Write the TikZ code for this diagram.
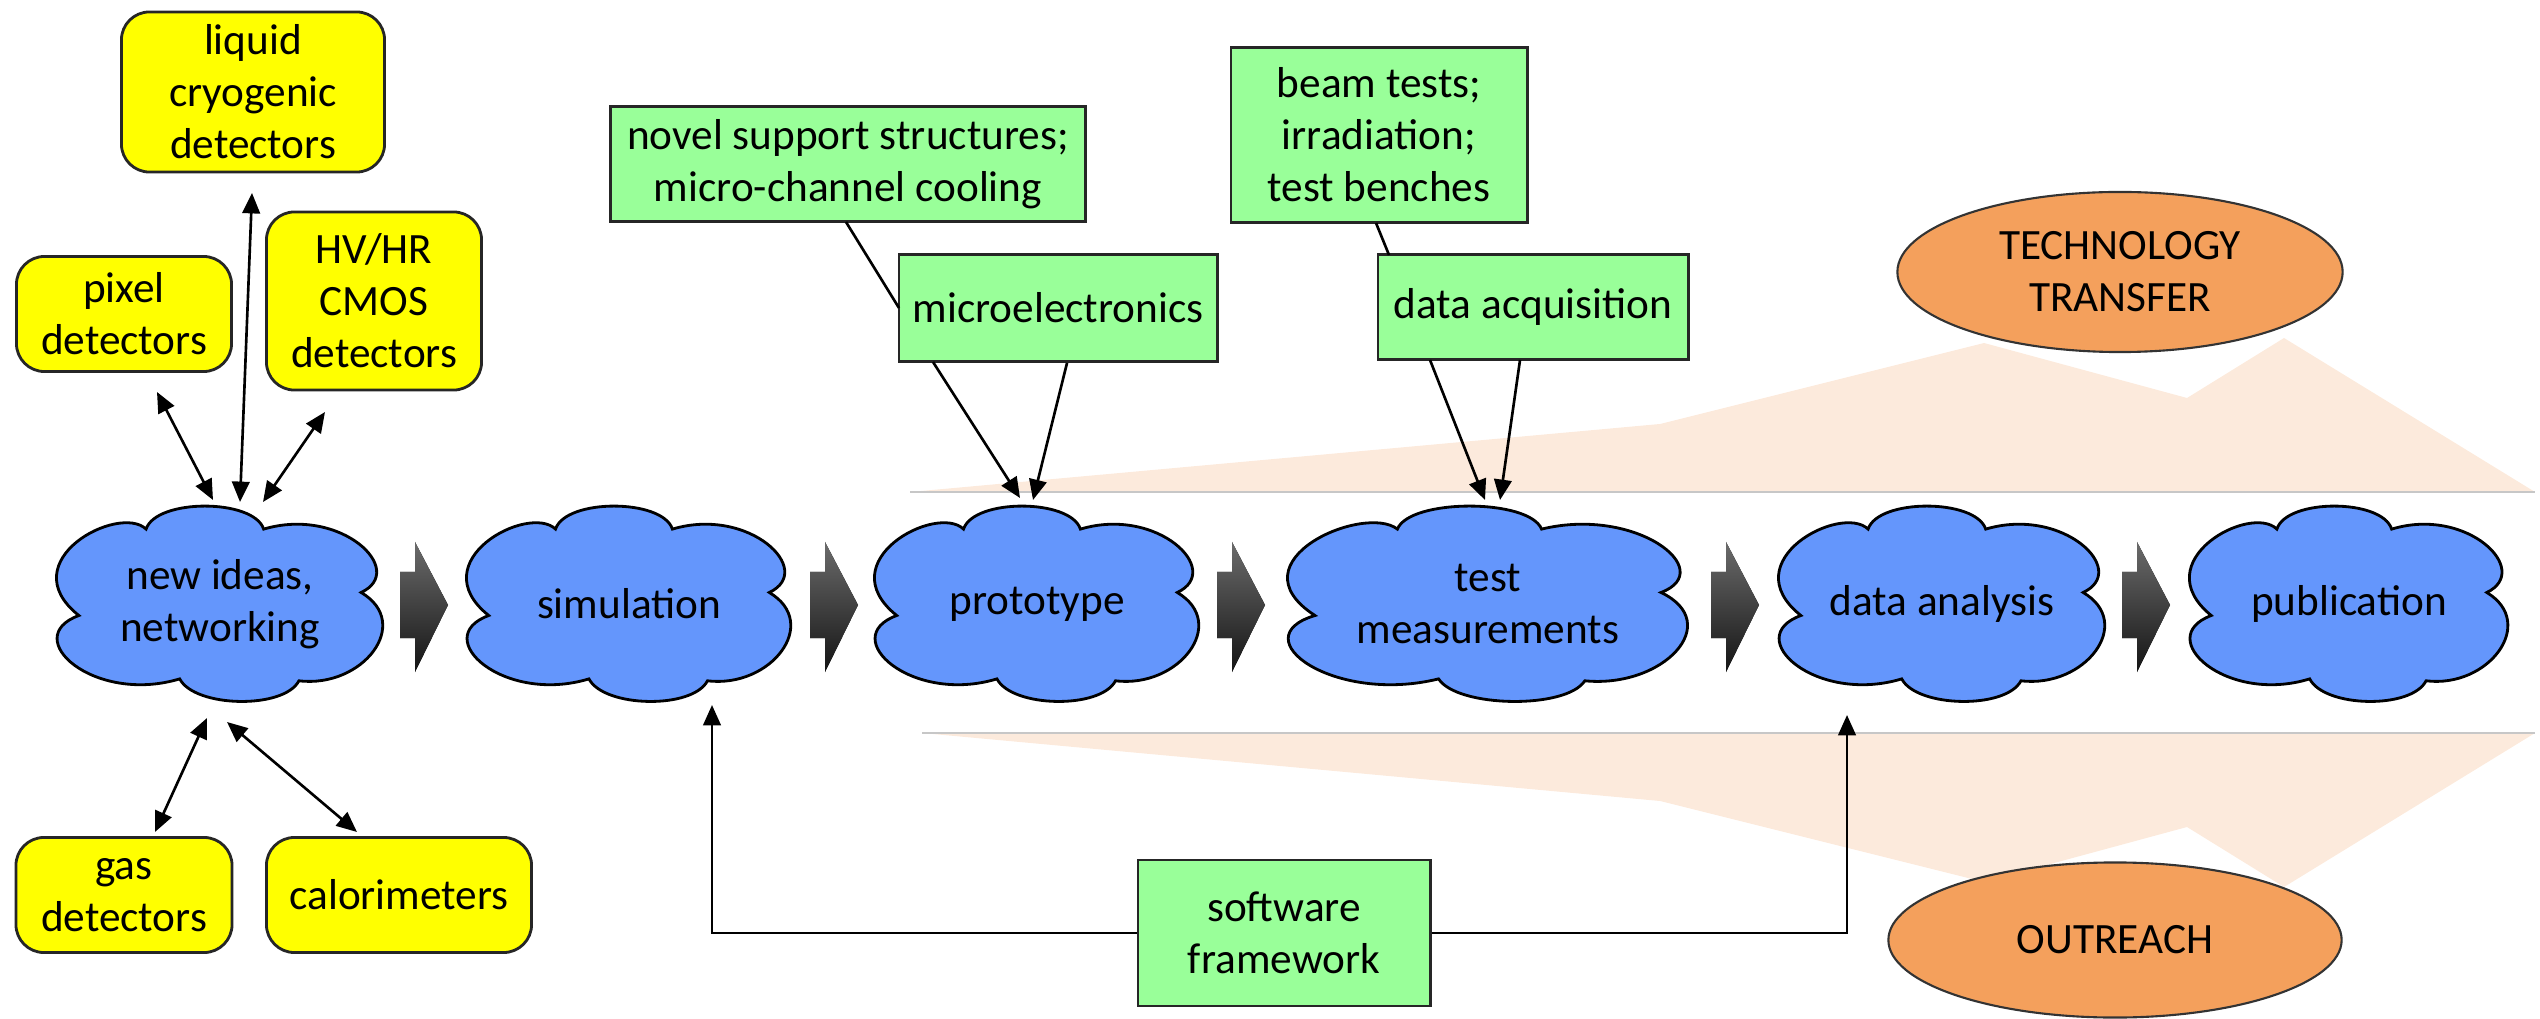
\documentclass[tikz,border=0pt]{standalone}
\usepackage{fontspec}
\setmainfont{Carlito}
\usetikzlibrary{shapes.geometric,arrows.meta,calc}
\definecolor{detyellow}{RGB}{255,255,0}
\definecolor{taskgreen}{RGB}{153,255,153}
\definecolor{ideablue}{RGB}{100,150,252}
\definecolor{bandpeach}{RGB}{252,234,220}
\definecolor{ovalorange}{RGB}{244,160,92}
\tikzset{
  lbl/.style={font=\fontsize{12.3}{14.8}\selectfont, align=center, text=black},
  detbox/.style={lbl, draw=black!85, line width=0.8pt, fill=detyellow, rounded corners=0.28cm, inner sep=0pt},
  taskbox/.style={lbl, draw=black!85, line width=0.8pt, fill=taskgreen, inner sep=0pt},
  cloudskin/.style={draw=black, line width=0.8pt, fill=ideablue},
  oval/.style={lbl, shape=ellipse, draw=black!80, line width=0.6pt, fill=ovalorange, inner sep=0pt},
  headtip/.style={-{Triangle[length=5.8pt,width=5pt]}},
  twoway/.style={{Triangle[length=5.8pt,width=5pt]}-{Triangle[length=5.8pt,width=5pt]}, line width=0.75pt},
  feed/.style={headtip, line width=0.75pt},
  link/.style={line width=0.75pt},
  flowshade/.style={top color=black!58, bottom color=black!92, draw=none},
}
% cloud-shaped stage: name, centre x, centre y, half width (px), text
\newcommand\ideacloud[5]{%
  \begin{scope}[shift={(#2,#3)}, xscale=#4, yscale=96]
    \filldraw[cloudskin] (-0.44,-0.78)
      .. controls (-0.60,-1.05) and (-1.25,-0.45) .. (-0.84,0.12)
      .. controls (-1.20,0.35) and (-0.75,1.05) .. (-0.24,0.78)
      .. controls (-0.15,1.08) and (0.38,1.10) .. (0.47,0.80)
      .. controls (0.85,0.88) and (1.15,0.20) .. (0.84,-0.12)
      .. controls (1.12,-0.35) and (0.72,-1.02) .. (0.26,-0.78)
      .. controls (0.20,-1.10) and (-0.38,-1.10) .. (-0.44,-0.78) -- cycle;
  \end{scope}
  \node[lbl, inner sep=0pt, minimum width={2*#4*0.01cm}, minimum height=1.92cm] (#1) at (#2,#3) {#5};
}
\begin{document}
\begin{tikzpicture}[x=0.01cm,y=-0.01cm]
\useasboundingbox (0,0) rectangle (2540,1019);

% background bands
\fill[bandpeach] (910,492) -- (1660,424) -- (1984,343) -- (2187,398) -- (2284,338) -- (2535,492) -- cycle;
\draw[black!22, line width=0.5pt] (910,492) -- (2535,492);
\fill[bandpeach] (922,733) -- (2535,733) -- (2284,887) -- (2187,827) -- (1984,882) -- (1660,801) -- cycle;
\draw[black!22, line width=0.5pt] (922,733) -- (2535,733);

% process chain
\ideacloud{ideas}{220}{604}{168}{new ideas,\\networking}
\ideacloud{sim}{629}{604}{167}{simulation}
\ideacloud{proto}{1037}{604}{167}{prototype}
\ideacloud{test}{1488}{604}{206}{test\\measurements}
\ideacloud{ana}{1942}{604}{168}{data analysis}
\ideacloud{pub}{2349}{604}{164}{publication}

% block arrows between the stages
\foreach \x in {400,810,1217,1711,2122}{
  \fill[flowshade] (\x,572) -- ({\x+15},572) -- ({\x+15},542) -- ({\x+48},605)
        -- ({\x+15},672) -- ({\x+15},638) -- (\x,638) -- cycle;
}

% detector technologies
\node[detbox, minimum width=2.63cm, minimum height=1.60cm] (liquid) at (253,92) {liquid\\cryogenic\\detectors};
\node[detbox, minimum width=2.15cm, minimum height=1.15cm] (pixel) at (124,314) {pixel\\detectors};
\node[detbox, minimum width=2.15cm, minimum height=1.78cm] (hvcmos) at (374,301) {HV/HR\\CMOS\\detectors};
\node[detbox, minimum width=2.16cm, minimum height=1.15cm] (gas) at (124,895) {gas\\detectors};
\node[detbox, minimum width=2.65cm, minimum height=1.15cm] (calo) at (399,895) {calorimeters};

% supporting activities
\node[taskbox, minimum width=4.74cm, minimum height=1.15cm] (support) at (848,164) {novel support structures;\\micro-channel cooling};
\node[taskbox, minimum width=3.18cm, minimum height=1.07cm] (micro) at (1058,308) {microelectronics};
\node[taskbox, minimum width=2.96cm, minimum height=1.75cm] (beam) at (1379,135) {beam tests;\\irradiation;\\test benches};
\node[taskbox, minimum width=3.10cm, minimum height=1.05cm] (daq) at (1533,307) {data acquisition};
\node[taskbox, minimum width=2.92cm, minimum height=1.46cm] (soft) at (1284,933) {software\\framework};

% outreach ovals
\node[oval, minimum width=4.45cm, minimum height=1.60cm] (transfer) at (2120,272) {TECHNOLOGY\\TRANSFER};
\node[oval, minimum width=4.53cm, minimum height=1.55cm] (outreach) at (2115,940) {OUTREACH};

% end points of the links
\coordinate (pixel-out) at (157,392);   \coordinate (pixel-in) at (213,500);
\coordinate (liquid-out) at (252,193);  \coordinate (liquid-in) at (240,502);
\coordinate (hv-out) at (325,412);      \coordinate (hv-in) at (263,502);
\coordinate (gas-out) at (155,832);     \coordinate (gas-in) at (207,718);
\coordinate (calo-out) at (357,832);    \coordinate (calo-in) at (227,722);
\coordinate (support-out) at (846,222); \coordinate (micro-side) at (899,308);
\coordinate (micro-a) at (933,362);     \coordinate (proto-a) at (1020,498);
\coordinate (micro-b) at (1067,363);    \coordinate (proto-b) at (1033,500);
\coordinate (beam-out) at (1376,223);   \coordinate (daq-top) at (1389,255);
\coordinate (daq-a) at (1430,360);      \coordinate (test-a) at (1485,500);
\coordinate (daq-b) at (1520,360);      \coordinate (test-b) at (1500,500);
\coordinate (sim-in) at (712,705);      \coordinate (ana-in) at (1847,715);

\draw[twoway] (pixel-out) -- (pixel-in);
\draw[twoway] (liquid-out) -- (liquid-in);
\draw[twoway] (hv-out) -- (hv-in);
\draw[twoway] (gas-out) -- (gas-in);
\draw[twoway] (calo-out) -- (calo-in);

\draw[link] (support-out) -- (micro-side);
\draw[feed] (micro-a) -- (proto-a);
\draw[feed] (micro-b) -- (proto-b);
\draw[link] (beam-out) -- (daq-top);
\draw[feed] (daq-a) -- (test-a);
\draw[feed] (daq-b) -- (test-b);

\draw[feed] (soft.west) -| (sim-in);
\draw[feed] (soft.east) -| (ana-in);
\end{tikzpicture}
\end{document}
